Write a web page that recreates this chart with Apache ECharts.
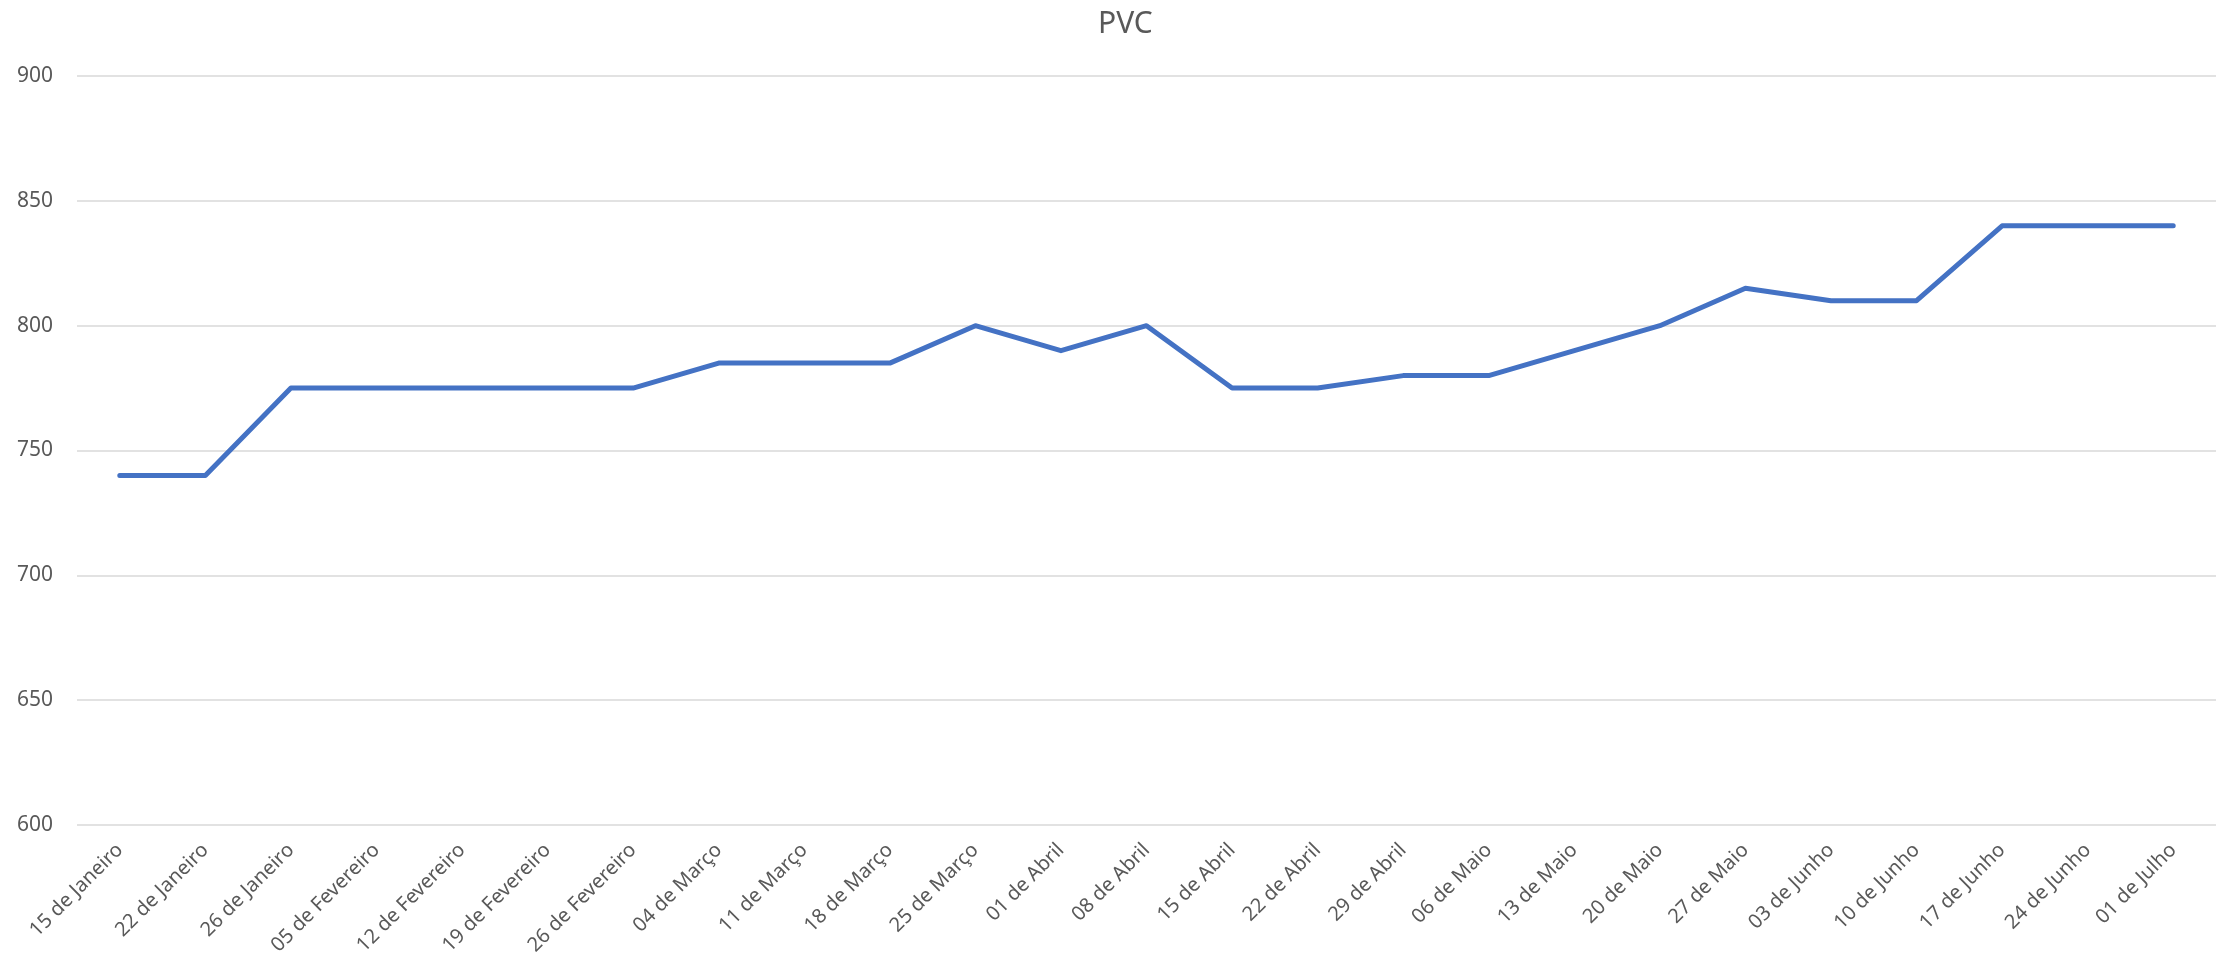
<!DOCTYPE html>
<html>
<head>
<meta charset="utf-8">
<title>PVC</title>
<script src="https://cdn.jsdelivr.net/npm/echarts@6/dist/echarts.min.js"></script>
<style>
  html, body { margin: 0; padding: 0; background: #fff; }
  #main { width: 2218px; height: 966px; }
</style>
</head>
<body>
<div id="main"></div>
<script>
// datas das cotações
const datas = [
  "15 de Janeiro", "22 de Janeiro", "26 de Janeiro", "05 de Fevereiro", "12 de Fevereiro",
  "19 de Fevereiro", "26 de Fevereiro", "04 de Março", "11 de Março", "18 de Março",
  "25 de Março", "01 de Abril", "08 de Abril", "15 de Abril", "22 de Abril",
  "29 de Abril", "06 de Maio", "13 de Maio", "20 de Maio", "27 de Maio",
  "03 de Junho", "10 de Junho", "17 de Junho", "24 de Junho", "01 de Julho"
];
// preço do PVC
const pvc = [
  740, 740, 775, 775, 775,
  775, 775, 785, 785, 785,
  800, 790, 800, 775, 775,
  780, 780, 790, 800, 815,
  810, 810, 840, 840, 840
];
const yMin = 600;
const yMax = 900;
const yStep = 50;

const labelColor = "#595959";
const fontFam = "'Noto Sans', 'Liberation Sans', sans-serif";

let myChart = echarts.init(document.getElementById("main"));
myChart.setOption({
  animation: false,
  title: {
    text: "PVC",
    left: 1093,
    top: 4,
    textStyle: {
      color: labelColor,
      fontSize: 30,
      fontWeight: "normal",
      fontFamily: fontFam,
    },
  },
  grid: {
    left: 77,
    right: 2,
    top: 76,
    bottom: 141,
    containLabel: false,
  },
  xAxis: {
    type: "category",
    boundaryGap: true,
    data: datas,
    axisLine: { show: false },
    axisTick: { show: false },
    axisLabel: {
      rotate: 45,
      interval: 0,
      margin: 22,
      color: labelColor,
      fontSize: 20,
      fontFamily: fontFam,
    },
  },
  yAxis: {
    type: "value",
    min: yMin,
    max: yMax,
    interval: yStep,
    axisLine: { show: false },
    axisTick: { show: false },
    axisLabel: {
      margin: 24,
      color: labelColor,
      fontSize: 21,
      fontFamily: fontFam,
    },
    splitLine: {
      lineStyle: {
        color: "#d9d9d9",
        width: 1.5,
      },
    },
  },
  series: [
    {
      name: "PVC",
      type: "line",
      data: pvc,
      showSymbol: false,
      lineStyle: {
        color: "#4472C4",
        width: 5,
        cap: "round",
        join: "round",
      },
      itemStyle: { color: "#4472C4" },
    },
  ],
});
</script>
</body>
</html>
